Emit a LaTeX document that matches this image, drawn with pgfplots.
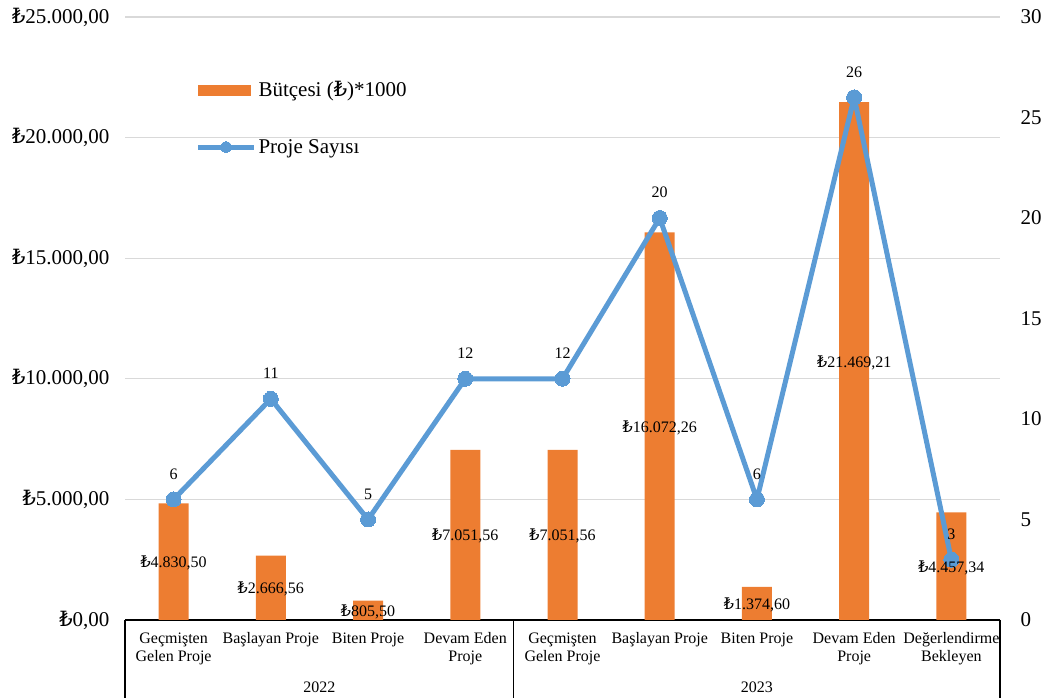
\documentclass[border=0pt]{standalone}
\usepackage{pgfplots}
\pgfplotsset{compat=1.18}
\usepackage{pgfplotstable}
\usepackage{fontspec}
\setmainfont{Liberation Serif}
\newfontfamily\lirafont{DejaVu Serif}
\newcommand{\TL}{{\lirafont\char"20BA}}

\definecolor{barorange}{HTML}{ED7D31}
\definecolor{lineblue}{HTML}{5B9BD5}
\definecolor{gridgray}{HTML}{D9D9D9}

\newcommand{\tickfont}{\fontsize{21}{24}\selectfont}
\newcommand{\catfont}{\fontsize{16}{18}\selectfont}
\newcommand{\lblfont}{\fontsize{16}{19}\selectfont}

\pgfplotsset{
  barlegend/.style={legend image code/.code={\fill[barorange] (0pt,-5pt) rectangle (52pt,5pt);}},
  linelegend/.style={legend image code/.code={\draw[##1, mark size=5.5pt, mark repeat=2, mark phase=2] plot coordinates {(0pt,0pt) (28pt,0pt) (56pt,0pt)};}},
  base/.style={
    at={(125pt,78pt)}, anchor=south west,
    scale only axis, width=875pt, height=603pt,
    xmin=-0.5, xmax=8.5, clip=false,
    tick style={draw=none},
  },
}

% budget (thousand TL) and project count
\pgfplotstableread{
x y lbl
0 4830.50 \TL4.830,50
1 2666.56 \TL2.666,56
2 805.50 \TL805,50
3 7051.56 \TL7.051,56
4 7051.56 \TL7.051,56
5 16072.26 \TL16.072,26
6 1374.60 \TL1.374,60
7 21469.21 \TL21.469,21
8 4457.34 \TL4.457,34
}\butce

\pgfplotstableread{
x n
0 6
1 11
2 5
3 12
4 12
5 20
6 6
7 26
8 3
}\proje

\begin{document}
\begin{tikzpicture}
\useasboundingbox (0,0) rectangle (1053pt,698pt);

\begin{axis}[base,
  ymin=0, ymax=25000,
  axis x line*=bottom, axis y line*=left,
  y axis line style={draw=none},
  x axis line style={black, line width=1.2pt, -},
  xtick={0,...,8},
  xticklabels={{Geçmişten\\Gelen Proje},{Başlayan Proje},{Biten Proje},{Devam Eden\\Proje},
    {Geçmişten\\Gelen Proje},{Başlayan Proje},{Biten Proje},{Devam Eden\\Proje},{Değerlendirme\\Bekleyen}},
  xticklabel style={font=\catfont, align=center, anchor=north, yshift=-9pt},
  ytick={0,5000,...,25000},
  yticklabels={{\TL0,00},{\TL5.000,00},{\TL10.000,00},{\TL15.000,00},{\TL20.000,00},{\TL25.000,00}},
  yticklabel style={font=\tickfont, xshift=-12pt},
  ymajorgrids, grid style={gridgray, line width=1.2pt},
]
\addplot[ybar, bar width=30pt, fill=barorange, draw=none] table[x=x, y=y]{\butce};

\draw[black, line width=1.2pt] (axis cs:-0.5,0) -- ++(0pt,-78pt);
\draw[black, line width=1.2pt] (axis cs:3.5,0) -- ++(0pt,-78pt);
\draw[black, line width=1.2pt] (axis cs:8.5,0) -- ++(0pt,-78pt);
\node[font=\catfont, anchor=base] at ([yshift=-73pt]axis cs:1.5,0) {2022};
\node[font=\catfont, anchor=base] at ([yshift=-73pt]axis cs:6,0) {2023};
\end{axis}

\begin{axis}[base,
  ymin=0, ymax=30,
  axis x line=none, axis y line*=right,
  y axis line style={draw=none},
  ytick={0,5,...,30},
  yticklabel style={font=\tickfont, xshift=17pt},
  /pgf/number format/assume math mode=true,
  legend style={at={(axis description cs:0.077,0.90)}, anchor=north west,
    draw=none, fill=none, font=\tickfont, row sep=37pt, cells={anchor=west}},
]
\addlegendimage{barlegend}
\addlegendentry{Bütçesi (\TL)*1000}
\addplot[lineblue, line width=5pt, line join=round, mark=*, mark size=7.5pt,
  mark options={fill=lineblue, draw=lineblue, line width=0pt},
  nodes near coords,
  nodes near coords style={anchor=south, inner sep=0pt, yshift=20pt, font=\lblfont, text=black},
  linelegend] table[x=x, y=n]{\proje};
\addlegendentry{Proje Sayısı}
\end{axis}

% bar value labels, centred in each bar, drawn on top
\begin{axis}[base, ymin=0, ymax=25000, hide axis]
\addplot[draw=none, mark=none, nodes near coords, point meta=explicit symbolic,
  nodes near coords style={anchor=base, yshift=-6pt, inner sep=0pt, font=\lblfont, text=black}]
  table[x=x, y expr=\thisrow{y}/2, meta=lbl]{\butce};
\end{axis}
\end{tikzpicture}
\end{document}
